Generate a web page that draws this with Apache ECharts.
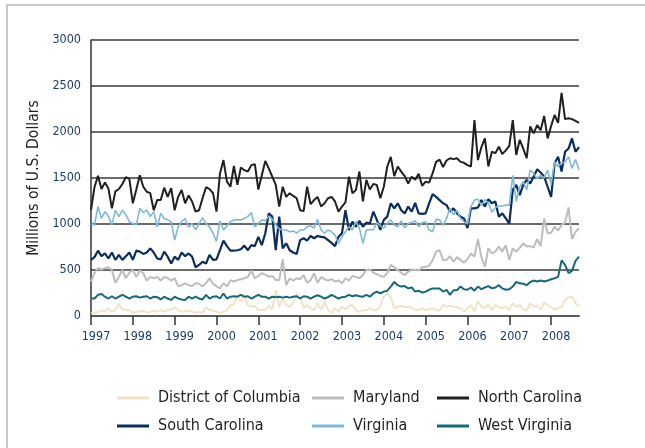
<!DOCTYPE html>
<html>
<head>
<meta charset="utf-8">
<script src="https://cdn.jsdelivr.net/npm/echarts@6/dist/echarts.min.js"></script>
<style>html,body{margin:0;padding:0;background:#fff;}#c{width:645px;height:448px;}</style>
</head>
<body>
<div id="c"></div>
<script>
var years = ['1997','1998','1999','2000','2001','2002','2003','2004','2005','2006','2007','2008'];
var yTicks = [0, 500, 1000, 1500, 2000, 2500, 3000];
var seriesNames = ['District of Columbia','Maryland','North Carolina','South Carolina','Virginia','West Virginia'];

var districtOfColumbia = [35,35,45,65,45,85,45,65,130,70,65,65,35,45,45,60,35,45,60,45,65,45,65,70,95,65,45,55,60,45,35,45,35,95,65,60,45,35,45,60,120,130,210,155,230,120,100,110,65,70,60,120,70,280,100,190,120,100,140,245,210,85,120,85,65,140,65,155,65,35,85,45,100,70,110,120,60,45,65,60,85,60,65,110,210,245,210,85,100,110,95,100,85,70,65,85,65,70,85,65,60,120,100,110,100,95,85,45,85,120,45,165,100,85,130,60,120,95,85,100,65,140,95,120,70,60,140,100,110,70,145,120,95,70,85,95,175,205,210,140,100];
var maryland = [375,465,520,505,520,530,500,360,425,500,410,470,500,425,495,465,385,425,410,425,385,425,410,385,410,325,335,355,335,325,355,350,320,360,410,350,325,300,355,320,390,375,390,400,410,425,495,410,435,465,450,425,435,390,390,615,335,410,385,410,400,445,360,390,465,360,425,400,385,400,375,385,355,410,385,435,425,410,445,500,505,470,455,435,425,470,555,530,500,470,445,480,505,500,495,530,535,545,610,700,715,610,610,650,590,640,610,580,620,680,645,835,640,535,735,680,700,755,700,770,610,735,700,740,790,755,760,745,835,760,1060,900,905,970,930,990,1015,1180,835,915,950];
var northCarolina = [1150,1400,1525,1380,1450,1385,1170,1355,1380,1435,1510,1490,1225,1375,1530,1405,1350,1335,1150,1260,1260,1395,1295,1390,1150,1295,1370,1225,1310,1245,1135,1150,1280,1400,1380,1335,1135,1550,1695,1460,1405,1630,1425,1615,1585,1570,1640,1650,1375,1530,1685,1605,1515,1425,1190,1405,1295,1335,1305,1280,1150,1140,1405,1215,1260,1295,1190,1225,1280,1295,1245,1135,1190,1235,1515,1335,1370,1570,1245,1480,1375,1435,1425,1280,1405,1625,1730,1520,1625,1570,1520,1440,1515,1480,1545,1415,1460,1450,1550,1675,1700,1620,1690,1715,1705,1715,1675,1665,1640,1625,2130,1695,1835,1930,1625,1785,1770,1840,1760,1800,1850,2130,1750,1915,1820,1715,2060,1985,2075,2020,2175,1930,2065,2185,2100,2425,2140,2150,2140,2120,2100];
var southCarolina = [610,640,710,650,680,625,690,610,665,610,650,690,610,710,700,675,690,735,690,625,615,700,645,570,645,610,690,650,680,645,530,555,590,570,665,610,615,715,820,760,710,710,715,725,765,715,770,760,860,770,900,1115,1080,715,1080,735,790,715,690,675,825,845,820,870,845,870,860,855,825,795,760,860,900,1150,935,1025,970,1035,970,1015,1005,1135,1045,935,1045,1080,1225,1170,1225,1150,1115,1190,1135,1230,1115,1110,1115,1225,1325,1295,1260,1225,1205,1135,1170,1115,1080,1060,955,1170,1170,1180,1260,1190,1270,1225,1245,1080,1115,1060,1005,1370,1425,1315,1425,1480,1440,1515,1595,1560,1515,1405,1295,1660,1730,1570,1785,1820,1930,1785,1835];
var virginia = [1000,990,1190,1060,1135,1085,990,1150,1080,1150,1100,1025,1005,990,1170,1125,1150,1080,1135,970,1115,1060,1045,1025,825,970,1025,1060,965,1005,935,1005,1070,1005,970,900,810,1035,935,980,1025,1045,1045,1045,1060,1080,1125,970,1005,1045,1035,1085,1050,990,945,935,935,915,925,900,935,935,970,980,955,1050,935,900,935,915,880,790,860,915,970,935,1025,955,790,935,940,935,1015,980,955,1005,1045,990,970,1035,955,1005,1015,1035,970,1015,1025,935,915,1050,1045,985,1060,1170,1100,1150,1060,1025,1000,1190,1260,1270,1200,1265,1225,1130,1180,1195,1195,1205,1205,1530,1245,1405,1460,1370,1585,1550,1495,1530,1500,1585,1425,1675,1625,1660,1675,1730,1605,1700,1590];
var westVirginia = [190,190,230,240,210,190,215,190,210,230,210,190,210,215,200,210,215,190,210,205,180,210,190,175,210,190,180,175,210,190,210,190,180,230,190,210,215,190,245,190,210,215,210,230,210,215,190,210,230,210,210,190,210,205,210,200,210,200,210,215,190,215,210,190,210,225,210,190,205,230,210,190,205,210,230,215,225,215,210,230,210,245,265,245,265,275,320,370,335,320,325,300,310,265,275,255,265,285,300,300,300,265,285,230,280,280,320,290,285,310,275,320,290,310,325,300,310,335,300,285,290,320,370,355,350,335,370,385,375,385,375,385,400,410,425,605,555,465,490,600,645];

var colors = ['#efe4c6','#bdbdbd','#231f20','#0d2d5c','#7dbad8','#16697a'];
var widths = [2, 2, 2, 2.2, 1.6, 2];
var allData = [districtOfColumbia, maryland, northCarolina, southCarolina, virginia, westVirginia];

var months = [];
for (var y = 0; y < years.length; y++) {
  for (var m = 1; m <= 12; m++) months.push(years[y] + '-' + (m < 10 ? '0' + m : m));
}
months = months.slice(0, northCarolina.length);

var F = "'Liberation Sans Narrow','Arial Narrow','DejaVu Sans Condensed',sans-serif";
var navy = '#1f3c6c';

function legendCol(left, names) {
  return {
    left: left, top: 385, orient: 'vertical', itemGap: 12,
    icon: 'rect', itemWidth: 32, itemHeight: 3,
    data: names,
    textStyle: {fontFamily: F, fontSize: 16, color: '#231f20', padding: [0, 0, 0, 4]}
  };
}

var chart = echarts.init(document.getElementById('c'), null, {renderer: 'canvas'});
chart.setOption({
  animation: false,
  color: colors,
  grid: {left: 91, right: 66, top: 40, bottom: 132},
  legend: [
    legendCol(112, [seriesNames[0], seriesNames[3]]),
    legendCol(307, [seriesNames[1], seriesNames[4]]),
    legendCol(432, [seriesNames[2], seriesNames[5]])
  ],
  graphic: [{
    type: 'rect', shape: {x: 7, y: 5, width: 800, height: 600},
    style: {fill: null, stroke: '#c9c9c9', lineWidth: 2}, silent: true
  }],
  xAxis: {
    type: 'category', data: months, boundaryGap: false,
    axisLine: {lineStyle: {color: '#5a5a5a', width: 2}},
    axisTick: {show: true, length: 9, interval: function (i) { return i % 12 === 0; }, lineStyle: {color: '#333', width: 1.5}},
    axisLabel: {
      interval: function (i) { return i % 12 === 0; },
      formatter: function (v) { return v.slice(0, 4); },
      fontFamily: F, fontSize: 12.5, color: navy, margin: 14, padding: [0, 0, 0, 10]
    },
    splitLine: {show: false}
  },
  yAxis: {
    type: 'value', min: yTicks[0], max: yTicks[yTicks.length - 1], interval: yTicks[1] - yTicks[0],
    name: 'Millions of U.S. Dollars', nameLocation: 'middle', nameRotate: 90, nameGap: 27,
    nameTextStyle: {fontFamily: F, fontSize: 15.5, color: '#231f20'},
    axisLine: {show: true, lineStyle: {color: '#333', width: 1.5}},
    axisTick: {show: false},
    axisLabel: {fontFamily: F, fontSize: 12.5, color: navy, margin: 10, formatter: function (v) { return String(v); }},
    splitLine: {lineStyle: {color: '#3a3a3a', width: 1.5}}
  },
  series: seriesNames.map(function (n, k) {
    return {
      name: n, type: 'line', data: allData[k], showSymbol: false, symbol: 'none',
      lineStyle: {width: widths[k], color: colors[k]}, itemStyle: {color: colors[k]}
    };
  })
});
</script>
</body>
</html>
